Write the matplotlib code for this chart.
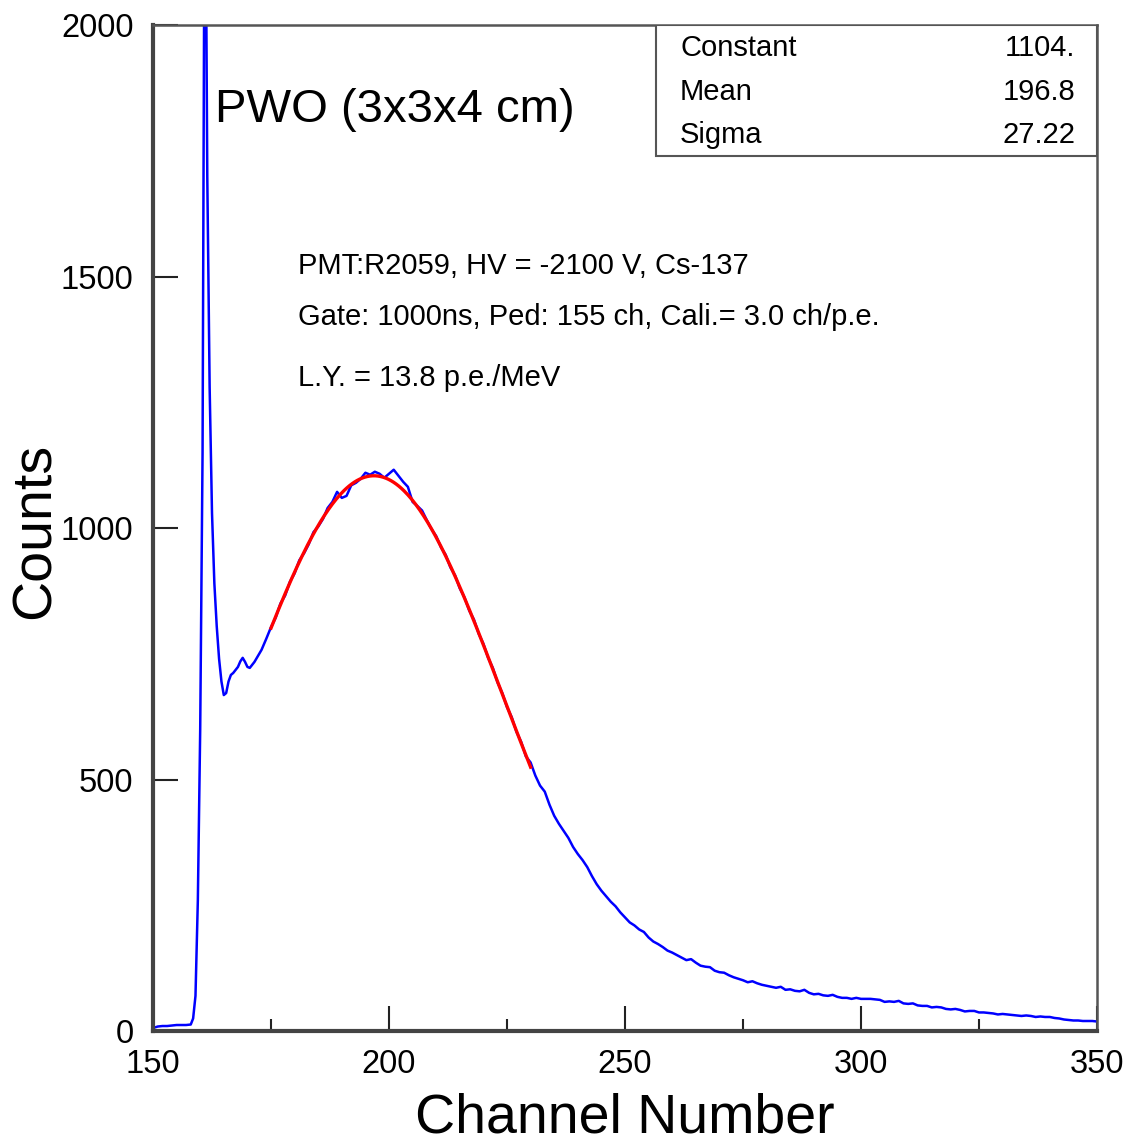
import matplotlib
matplotlib.use('Agg')
import matplotlib.pyplot as plt
import numpy as np
from matplotlib.patches import Rectangle

plt.rcParams['font.family'] = ['Liberation Sans', 'DejaVu Sans']

# pedestal region (read at half-channel steps)
ped_channels = [150, 151, 152, 153, 154, 155, 156, 157, 158, 158.5, 159, 159.5,
                160, 160.5, 161, 161.5, 162, 162.5, 163, 163.5, 164, 164.5, 165,
                165.5, 166, 166.5, 167, 167.5, 168, 168.5, 169, 169.5, 170, 170.5,
                171, 171.5, 172, 173, 174]
ped_counts = [6, 9, 10, 10, 11, 12, 12, 12, 13, 25, 70, 260,
              600, 1150, 2500, 1700, 1280, 1030, 890, 805, 740, 695, 668,
              672, 695, 708, 712, 718, 724, 735, 742, 734, 724, 722,
              728, 734, 742, 758, 780]

# photo peak + tail, channels 175..350
peak_counts = [
    803, 822, 850, 866, 893, 910, 936, 950, 968, 992,
    1003, 1018, 1040, 1052, 1072, 1060, 1064, 1085, 1090, 1098,
    1110, 1106, 1112, 1108, 1100, 1108, 1116, 1104, 1092, 1082,
    1052, 1044, 1035, 1016, 998, 984, 962, 947, 922, 906,
    880, 862, 836, 818, 790, 770, 742, 722, 693, 672,
    644, 624, 595, 575, 546, 534, 508, 488, 476, 450,
    428, 412, 398, 384, 366, 352, 340, 326, 308, 292,
    279, 268, 257, 248, 236, 226, 216, 210, 202, 197,
    186, 178, 173, 167, 160, 156, 151, 146, 141, 143,
    136, 130, 128, 127, 120, 117, 116, 111, 107, 104,
    101, 97, 99, 95, 92, 90, 88, 86, 88, 82,
    83, 80, 79, 82, 76, 73, 74, 71, 70, 72,
    68, 66, 66, 64, 66, 64, 64, 64, 63, 62,
    58, 59, 58, 60, 55, 54, 55, 51, 50, 50,
    47, 48, 47, 44, 43, 44, 42, 39, 40, 40,
    37, 37, 36, 35, 33, 34, 33, 32, 31, 30,
    31, 30, 28, 29, 28, 28, 26, 25, 23, 22,
    21, 21, 20, 20, 20, 19]
peak_channels = list(range(175, 351))

# gaussian fit result
fit_const = 1104.
fit_mean = 196.8
fit_sigma = 27.22
fit_range = (175, 230)

channels = ped_channels + peak_channels
counts = ped_counts + peak_counts

fig = plt.figure(figsize=(11.3, 11.46), dpi=100)
ax = fig.add_axes([0.1354, 0.1003, 0.8354, 0.8778])

ax.plot(channels, counts, color='#0000ff', lw=1.8)
xf = np.linspace(fit_range[0], fit_range[1], 200)
ax.plot(xf, fit_const * np.exp(-0.5 * ((xf - fit_mean) / fit_sigma) ** 2),
        color='#ff0000', lw=2.4)

ax.set_xlim(150, 350)
ax.set_ylim(0, 2000)
ax.set_xticks([150, 200, 250, 300, 350])
ax.set_xticks([175, 225, 275, 325], minor=True)
ax.set_yticks([0, 500, 1000, 1500, 2000])
ax.tick_params(direction='in', labelsize=23.5, width=1.5, length=18, color='#222222')
ax.tick_params(axis='x', which='minor', direction='in', length=9, width=1.5, color='#222222')
ax.tick_params(axis='x', pad=13)
ax.tick_params(axis='y', pad=14)

for side in ['left', 'bottom']:
    ax.spines[side].set_linewidth(3)
    ax.spines[side].set_color('#444444')
for side in ['top', 'right']:
    ax.spines[side].set_linewidth(1.8)
    ax.spines[side].set_color('#555555')

ax.set_xlabel('Channel Number', fontsize=40, va='center')
ax.xaxis.set_label_coords(0.5, -0.087)
ax.set_ylabel('Counts', fontsize=40, va='center')
ax.yaxis.set_label_coords(-0.124, 0.497)

ax.text(0.0657, 0.9155, 'PWO (3x3x4 cm)', transform=ax.transAxes,
        fontsize=34, ha='left', va='center')

notes = ['PMT:R2059, HV = -2100 V, Cs-137',
         'Gate: 1000ns, Ped: 155 ch, Cali.= 3.0 ch/p.e.',
         'L.Y. = 13.8 p.e./MeV']
note_y = [0.7604, 0.7097, 0.6491]
for t, y in zip(notes, note_y):
    ax.text(0.1536, y, t, transform=ax.transAxes, fontsize=21,
            ha='left', va='center')

# stats box
box = Rectangle((0.5328, 0.8698), 1 - 0.5328, 1 - 0.8698, transform=ax.transAxes,
                facecolor='white', edgecolor='#555555', lw=1.5, zorder=5)
ax.add_patch(box)
stat_names = ['Constant', 'Mean', 'Sigma']
stat_vals = ['1104.', '196.8', '27.22']
stat_y = [0.9771, 0.9334, 0.8907]
for n, v, y in zip(stat_names, stat_vals, stat_y):
    ax.text(0.5583, y, n, transform=ax.transAxes, fontsize=21,
            ha='left', va='center', zorder=6)
    ax.text(0.9767, y, v, transform=ax.transAxes, fontsize=21,
            ha='right', va='center', zorder=6)

fig.savefig('out.png', dpi=100)
